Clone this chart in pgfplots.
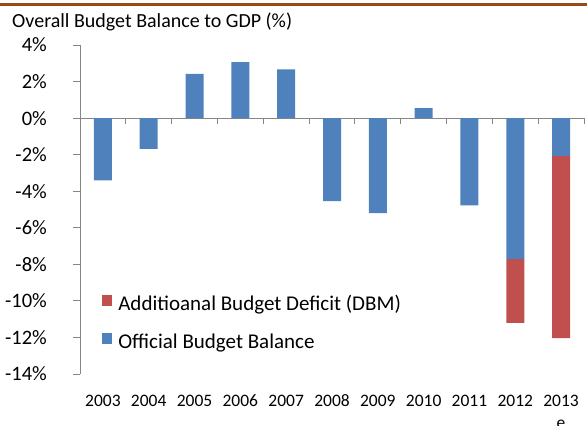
\documentclass[border=0pt]{standalone}
\usepackage{fontspec}
\setmainfont{Carlito}
\usepackage{pgfplots}
\pgfplotsset{compat=1.18}
\definecolor{barblue}{RGB}{79,129,189}
\definecolor{barred}{RGB}{192,80,77}
\definecolor{axgray}{RGB}{134,134,134}
\definecolor{topbrown}{RGB}{156,72,20}
\begin{document}
\begin{tikzpicture}[x=1pt,y=1pt]
\useasboundingbox (0,0) rectangle (587,426);
\fill[topbrown] (0,420.3) rectangle (587,422.7);
\node[anchor=base west, inner sep=0pt, font=\fontsize{20}{24}\selectfont] at (12,398) {Overall Budget Balance to GDP (\%)};
\begin{axis}[
  at={(80pt,52pt)}, anchor=south west,
  scale only axis, width=504pt, height=329pt,
  ybar stacked, bar width=18pt,
  xmin=-0.5, xmax=10.5, ymin=-14, ymax=4,
  axis y line*=left, axis x line*=bottom,
  x axis line style={draw=none},
  y axis line style={draw=axgray, line width=0.9pt},
  xtick={0,...,10},
  xticklabels={2003,2004,2005,2006,2007,2008,2009,2010,2011,2012,{\begin{tabular}[t]{@{}c@{}}2013\\e\end{tabular}}},
  xtick style={draw=none},
  ytick={-14,-12,...,4},
  yticklabels={-14\%,-12\%,-10\%,-8\%,-6\%,-4\%,-2\%,0\%,2\%,4\%},
  ytick style={draw=axgray, line width=0.9pt},
  tick align=outside, major tick length=7pt,
  yticklabel style={font=\fontsize{20.5}{24}\selectfont, anchor=east, inner sep=0pt, xshift=-26pt},
  xticklabel style={font=\fontsize{17.5}{22}\selectfont, anchor=base, inner sep=0pt, yshift=-25pt},
  reverse legend,
  legend cell align=left,
  legend style={at={(axis description cs:0.0431,0.1505)}, anchor=west, draw=none, fill=none,
    inner sep=0pt, outer sep=0pt, column sep=6pt, row sep=17pt,
    font=\fontsize{21}{25}\selectfont,
    nodes={inner sep=0pt, text height=15pt, text depth=5pt}},
  clip=false,
]
\addplot[fill=barblue, draw=none,
  legend image code/.code={\fill[barblue] (0pt,0.2pt) rectangle (10.6pt,10.8pt);}]
  coordinates {(0,-3.4) (1,-1.68) (2,2.42) (3,3.06) (4,2.66) (5,-4.54) (6,-5.2) (7,0.55) (8,-4.77) (9,-7.7) (10,-2.06)};
\addplot[fill=barred, draw=none,
  legend image code/.code={\fill[barred] (0pt,0.2pt) rectangle (10.6pt,10.8pt);}]
  coordinates {(0,0) (1,0) (2,0) (3,0) (4,0) (5,0) (6,0) (7,0) (8,0) (9,-3.5) (10,-9.98)};
\legend{Official Budget Balance, Additioanal Budget Deficit (DBM)}
\draw[axgray, line width=0.9pt] (axis cs:-0.5,0) -- (axis cs:10.5,0);
\pgfplotsinvokeforeach{0,...,11}{
  \draw[axgray, line width=0.9pt] (axis cs:#1-0.5,0) -- ++(0pt,-6pt);
}
\end{axis}
\end{tikzpicture}
\end{document}
